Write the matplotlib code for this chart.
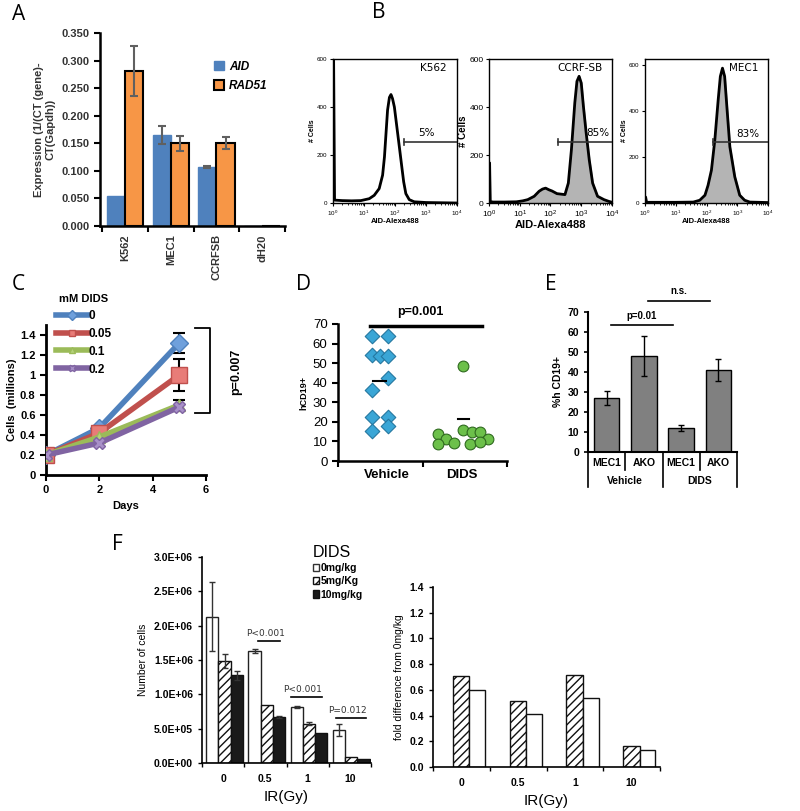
import matplotlib
matplotlib.use('Agg')
import matplotlib.pyplot as plt
import numpy as np
from matplotlib.lines import Line2D
from matplotlib.patches import Patch
from matplotlib.ticker import FuncFormatter, FixedLocator, LogLocator, NullFormatter

plt.rcParams['font.family'] = ['Liberation Sans', 'DejaVu Sans']
plt.rcParams['hatch.linewidth'] = 1.0

W, H = 800, 811
fig = plt.figure(figsize=(8, 8.11), dpi=100)


def px_axes(l, t, r, b):
    return fig.add_axes([l / W, 1 - b / H, (r - l) / W, (b - t) / H])


def fx(x):
    return x / W


def fy(y):
    return 1 - y / H

# ---------------- data ----------------
# Panel A
a_cats = ['K562', 'MEC1', 'CCRFSB', 'dH20']
a_aid = [0.055, 0.165, 0.107, 0.0]
a_aid_err = [0.0, 0.016, 0.002, 0.0]
a_rad51 = [0.281, 0.150, 0.151, 0.0]
a_rad51_err = [0.045, 0.014, 0.011, 0.0]

# Panel B (log10 of fluorescence, cell count)
b_titles = ['K562', 'CCRF-SB', 'MEC1']
b_pcts = ['5%', '85%', '83%']
k562_logx = [0.00, 0.02, 0.05, 0.3, 0.6, 0.9, 1.17, 1.33, 1.49, 1.60, 1.66, 1.71, 1.76, 1.82,
             1.87, 1.92, 1.98, 2.06, 2.14, 2.22, 2.28, 2.35, 2.46, 2.62, 3.0, 3.5, 4.0]
k562_cnt = [600, 600, 12, 10, 9, 10, 18, 32, 60, 116, 192, 290, 387, 440,
            452, 435, 400, 317, 234, 150, 88, 39, 14, 5, 2, 1, 0]
ccrf_logx = [0.0, 0.02, 0.04, 0.13, 0.5, 0.89, 1.10, 1.26, 1.47, 1.63, 1.74, 1.84, 1.95, 2.05,
             2.21, 2.47, 2.58, 2.68, 2.79, 2.86, 2.93, 3.00, 3.07, 3.16, 3.26, 3.37, 3.53,
             3.74, 3.89, 4.0]
ccrf_cnt = [0, 167, 6, 4, 4, 5, 9, 14, 28, 49, 58, 62, 55, 50,
            39, 35, 83, 222, 417, 507, 528, 500, 403, 292, 180, 83, 28,
            14, 7, 3]
mec1_logx = [0.0, 0.02, 0.05, 0.5, 1.0, 1.57, 1.78, 1.95, 2.05, 2.16, 2.27, 2.38, 2.45,
             2.52, 2.59, 2.67, 2.76, 2.92, 3.08, 3.24, 3.41, 4.0]
mec1_cnt = [0, 26, 3, 3, 3, 4, 12, 34, 77, 143, 274, 450, 552,
            588, 552, 406, 245, 114, 34, 12, 4, 2]
b_gate_start = [2.28, 2.26, 2.22]
b_gate_y = [255, 255, 267]

# Panel C
c_days = [0, 2, 5]
c_doses = ['0', '0.05', '0.1', '0.2']
c_vals = [[0.20, 0.47, 1.32],
          [0.20, 0.42, 1.00],
          [0.20, 0.38, 0.70],
          [0.20, 0.32, 0.68]]
c_err5 = [0.10, 0.16, 0.05, 0.0]

# Panel D
d_veh_x = [0.40, 0.59, 0.40, 0.50, 0.59, 0.59, 0.40, 0.40, 0.59, 0.40, 0.59]
d_veh_y = [63.9, 63.9, 54.2, 53.7, 53.7, 42.6, 36.3, 22.3, 22.3, 15.3, 17.9]
d_dids_x = [1.48, 1.18, 1.48, 1.58, 1.68, 1.28, 1.78, 1.18, 1.37, 1.56, 1.68]
d_dids_y = [48.7, 13.6, 15.8, 15.0, 14.6, 11.2, 11.2, 8.5, 9.4, 8.5, 9.9]
d_veh_mean = 41.0
d_dids_mean = 21.5

# Panel E
e_labels = ['MEC1', 'AKO', 'MEC1', 'AKO']
e_groups = ['Vehicle', 'DIDS']
e_vals = [27, 48, 12, 41]
e_err = [3.5, 10, 1.5, 5.5]

# Panel F
f_cats = ['0', '0.5', '1', '10']
f_0mg = [2.13e6, 1.63e6, 0.815e6, 0.476e6]
f_0mg_err = [0.5e6, 0.03e6, 0.02e6, 0.09e6]
f_5mg = [1.49e6, 0.84e6, 0.573e6, 0.083e6]
f_5mg_err = [0.10e6, 0.0, 0.02e6, 0.0]
f_10mg = [1.277e6, 0.67e6, 0.437e6, 0.058e6]
f_10mg_err = [0.07e6, 0.01e6, 0.0, 0.0]
f_fold_5 = [0.705, 0.513, 0.718, 0.166]
f_fold_10 = [0.601, 0.415, 0.539, 0.135]

# ---------------- panel letters ----------------
for lab, x, y in [('A', 12, 14), ('B', 372, 12), ('C', 12, 285), ('D', 296, 284),
                  ('E', 545, 285), ('F', 112, 545)]:
    fig.text(fx(x), fy(y), lab, fontsize=15, family='Open Sans', va='center', ha='left')

# ---------------- Panel A ----------------
axA = px_axes(100, 33, 285, 226)
xa = np.arange(len(a_cats))
bw = 0.4
axA.bar(xa - bw / 2, a_aid, bw, color='#4f81bd', edgecolor='#4f81bd', zorder=2)
axA.bar(xa + bw / 2, a_rad51, bw, color='#f79646', edgecolor='black', linewidth=1.5, zorder=2)
for i in range(len(a_cats)):
    if a_aid_err[i] > 0:
        axA.errorbar(xa[i] - bw / 2, a_aid[i], yerr=a_aid_err[i], color='#606060', capsize=3, lw=1.5, capthick=1.5, zorder=3)
    if a_rad51_err[i] > 0:
        axA.errorbar(xa[i] + bw / 2, a_rad51[i], yerr=a_rad51_err[i], color='#606060', capsize=3, lw=1.5, capthick=1.5, zorder=3)
axA.set_xlim(-0.55, 3.5)
axA.set_ylim(0, 0.35)
axA.set_yticks(np.arange(0, 0.351, 0.05))
axA.yaxis.set_major_formatter(FuncFormatter(lambda v, p: f'{v:.3f}'))
axA.set_xticks(xa)
axA.set_xticklabels(a_cats, rotation=90, fontweight='bold', fontsize=8, color='#333333')
axA.tick_params(axis='x', length=0, pad=6)
axA.set_xticks([-0.5, 0.5, 1.5, 2.5, 3.5], minor=True)
axA.tick_params(axis='x', which='minor', length=4, width=1.5)
axA.tick_params(axis='y', labelsize=8, width=1.5, length=4, labelcolor='#333333')
for t in axA.get_yticklabels():
    t.set_fontweight('bold')
for s in ['top', 'right']:
    axA.spines[s].set_visible(False)
for s in ['left', 'bottom']:
    axA.spines[s].set_linewidth(1.8)
axA.set_ylabel('Expression (1/(CT (gene)-\nCT(Gapdh))', fontsize=8, fontweight='bold', color='#333333', labelpad=4)
axA.legend(handles=[Patch(facecolor='#4f81bd', edgecolor='#4f81bd', label='AID'),
                    Patch(facecolor='#f79646', edgecolor='black', linewidth=1.5, label='RAD51')],
           loc='upper left', bbox_to_anchor=(fx(203), fy(50)), bbox_transform=fig.transFigure,
           frameon=False, handlelength=0.9, handleheight=0.9, handletextpad=0.4, labelspacing=0.6,
           prop={'weight': 'bold', 'style': 'italic', 'size': 8.5})

# ---------------- Panel B ----------------
b_pos = [(333, 59, 457, 203), (489, 59, 612, 203), (645, 59, 768, 203)]
b_data = [(k562_logx, k562_cnt), (ccrf_logx, ccrf_cnt), (mec1_logx, mec1_cnt)]
b_fill = [False, True, True]
b_ylim = [600, 600, 628]
b_small = [True, False, True]
b_pct_pos = [3.03, 3.55, 3.35]
for i in range(3):
    ax = px_axes(*b_pos[i])
    lx, cnt = b_data[i]
    xs = 10 ** np.array(lx)
    if b_fill[i]:
        ax.fill_between(xs, cnt, 0, color='#b4b4b4', zorder=1)
    ax.plot(xs, cnt, color='black', lw=2, zorder=2, solid_joinstyle='round')
    ax.set_xscale('log')
    ax.set_xlim(1, 1e4)
    ax.set_ylim(0, b_ylim[i])
    ax.set_yticks([0, 200, 400, 600])
    ax.xaxis.set_major_locator(FixedLocator([1, 10, 100, 1000, 10000]))
    ax.xaxis.set_minor_locator(LogLocator(base=10, subs=np.arange(2, 10), numticks=20))
    ax.xaxis.set_minor_formatter(NullFormatter())
    g0 = 10 ** b_gate_start[i]
    ax.plot([g0, 1e4], [b_gate_y[i], b_gate_y[i]], color='#333333', lw=1.2, zorder=3)
    ax.plot([g0, g0], [b_gate_y[i] - 12, b_gate_y[i] + 12], color='#333333', lw=1.2, zorder=3)
    small = b_small[i]
    tfs = 4.5 if small else 6
    ax.tick_params(axis='both', labelsize=tfs, length=2.5, width=0.8, pad=1.5)
    ax.tick_params(axis='x', which='minor', length=1.5, width=0.6)
    ax.set_xlabel('AID-Alexa488', fontsize=5.5 if small else 8, fontweight='bold', labelpad=0)
    ax.set_ylabel('# Cells', fontsize=5 if small else 7, fontweight='bold', labelpad=1)
    ax.text(0.92, 0.97, b_titles[i], transform=ax.transAxes, ha='right', va='top', fontsize=7.5,
            family='DejaVu Sans')
    ax.text(10 ** b_pct_pos[i], b_gate_y[i] + 35, b_pcts[i], ha='center', va='center', fontsize=7.5,
            family='DejaVu Sans')
    for s in ax.spines.values():
        s.set_linewidth(1.0)

# ---------------- Panel C ----------------
axC = px_axes(46, 325, 206, 475)
c_colors = ['#4f81bd', '#c0504d', '#9bbb59', '#8064a2']
c_mfc = ['#6fa0dc', '#e87c78', '#b5d27a', '#a890c8']
c_markers = ['D', 's', '^', 'X']
c_ms = [9, 12, 9, 9]
for i in range(4):
    axC.plot(c_days, c_vals[i], color=c_colors[i], lw=4, marker=c_markers[i], ms=c_ms[i],
             mfc=c_mfc[i], mec=c_colors[i], zorder=3)
    if c_err5[i] > 0:
        axC.errorbar(c_days[-1], c_vals[i][-1], yerr=c_err5[i], color='black', capsize=4, lw=1.5,
                     capthick=1.5, zorder=2)
axC.set_xlim(0, 6)
axC.set_ylim(0, 1.5)
axC.set_xticks([0, 2, 4, 6])
axC.set_yticks([0, 0.2, 0.4, 0.6, 0.8, 1.0, 1.2, 1.4])
axC.yaxis.set_major_formatter(FuncFormatter(lambda v, p: f'{v:g}'))
axC.tick_params(labelsize=8, width=1.5, length=4)
for t in axC.get_xticklabels() + axC.get_yticklabels():
    t.set_fontweight('bold')
for s in ['top', 'right']:
    axC.spines[s].set_visible(False)
for s in ['left', 'bottom']:
    axC.spines[s].set_linewidth(2)
axC.set_xlabel('Days', fontsize=8, fontweight='bold')
axC.set_ylabel('Cells  (millions)', fontsize=8, fontweight='bold', labelpad=2)
# bracket
axC.plot([5.6, 6.15, 6.15, 5.6], [1.47, 1.47, 0.62, 0.62], color='black', lw=1.3, clip_on=False)
axC.text(7.15, 1.03, 'p=0.007', rotation=90, ha='center', va='center', fontsize=9, fontweight='bold')
c_handles = [Line2D([], [], color=c_colors[i], lw=4, marker=c_markers[i], ms=5, mfc=c_mfc[i],
                    mec=c_colors[i], label=c_doses[i]) for i in range(4)]
leg = axC.legend(handles=c_handles, title='mM DIDS', loc='upper left',
                 bbox_to_anchor=(fx(50), fy(288)), bbox_transform=fig.transFigure, frameon=False,
                 handlelength=2.7, handletextpad=0.1, labelspacing=0.5, borderpad=0,
                 prop={'weight': 'bold', 'size': 8.5})
leg.get_title().set_fontweight('bold')
leg.get_title().set_fontsize(8)

# ---------------- Panel D ----------------
axD = px_axes(338, 324, 507, 461)
axD.scatter(d_veh_x, d_veh_y, marker='D', s=55, color='#3aa6d6', edgecolor='#2477a0', lw=0.8, zorder=3)
axD.scatter(d_dids_x, d_dids_y, marker='o', s=60, color='#6cc04a', edgecolor='#2f6a1f', lw=0.8, zorder=3)
axD.plot([0.42, 0.57], [d_veh_mean, d_veh_mean], color='black', lw=1.5, zorder=4)
axD.plot([1.42, 1.55], [d_dids_mean, d_dids_mean], color='black', lw=1.5, zorder=4)
axD.plot([0.38, 1.70], [69, 69], color='black', lw=2.5, clip_on=False)
axD.text(0.98, 73, 'p=0.001', ha='center', va='bottom', fontsize=9, fontweight='bold')
axD.set_xlim(0, 2)
axD.set_ylim(0, 70)
axD.set_yticks(np.arange(0, 71, 10))
axD.set_xticks([0, 1, 2])
axD.set_xticklabels([])
axD.set_xticks([0.58, 1.47], minor=True)
axD.set_xticklabels(['Vehicle', 'DIDS'], minor=True, fontsize=9.5, fontweight='bold')
axD.tick_params(axis='x', which='minor', length=0, pad=6)
axD.tick_params(axis='x', which='major', length=4, width=1.5)
axD.tick_params(axis='y', labelsize=9.5, length=4, width=1.5)
for s in ['top', 'right']:
    axD.spines[s].set_visible(False)
for s in ['left', 'bottom']:
    axD.spines[s].set_linewidth(1.8)
axD.set_ylabel('hCD19+', fontsize=6.5, fontweight='bold', labelpad=3)

# ---------------- Panel E ----------------
axE = px_axes(588, 312, 737, 452)
xe = np.arange(4) + 0.5
axE.bar(xe, e_vals, 0.68, color='#808080', edgecolor='black', linewidth=1, zorder=2)
axE.errorbar(xe, e_vals, yerr=e_err, fmt='none', ecolor='black', capsize=2.5, lw=1, capthick=1, zorder=3)
axE.set_xlim(0, 4)
axE.set_ylim(0, 70)
axE.set_yticks(np.arange(0, 71, 10))
axE.set_xticks([])
axE.tick_params(axis='y', labelsize=7.5, length=3, width=1.2)
for t in axE.get_yticklabels():
    t.set_fontweight('bold')
for s in ['top', 'right']:
    axE.spines[s].set_visible(False)
for s in ['left', 'bottom']:
    axE.spines[s].set_linewidth(1.5)
for i, lab in enumerate(e_labels):
    axE.text(xe[i], -0.082, lab, transform=axE.get_xaxis_transform(), ha='center', va='center',
             fontsize=7.5, fontweight='bold')
for g, lab in enumerate(e_groups):
    axE.text(1 + 2 * g, -0.21, lab, transform=axE.get_xaxis_transform(), ha='center', va='center',
             fontsize=7.5, fontweight='bold')
for xv, yb in [(0, -0.25), (1, -0.13), (2, -0.25), (3, -0.13), (4, -0.25)]:
    axE.plot([xv, xv], [0, yb], transform=axE.get_xaxis_transform(), color='black', lw=1.2, clip_on=False)
axE.plot([0.61, 2.29], [63.3, 63.3], color='black', lw=1.2, clip_on=False)
axE.text(1.45, 65.5, 'p=0.01', ha='center', va='bottom', fontsize=7, fontweight='bold')
axE.plot([1.6, 3.27], [75.5, 75.5], color='black', lw=1.2, clip_on=False)
axE.text(2.45, 77.8, 'n.s.', ha='center', va='bottom', fontsize=7, fontweight='bold')
axE.set_ylabel('%h CD19+', fontsize=7.5, fontweight='bold', labelpad=3)

# ---------------- Panel F (left) ----------------
axF = px_axes(202, 557, 371, 763)
xf = np.arange(4)
fw = 0.29
axF.bar(xf + 0.1, f_0mg, fw, align='edge', color='white', edgecolor='#222222', lw=1, zorder=2)
axF.bar(xf + 0.39, f_5mg, fw, align='edge', color='white', edgecolor='#111111', hatch='////', lw=1, zorder=2)
axF.bar(xf + 0.68, f_10mg, fw, align='edge', color='#1a1a1a', edgecolor='#111111', lw=1, zorder=2)
for i in range(4):
    for xoff, v, e in [(0.245, f_0mg[i], f_0mg_err[i]), (0.535, f_5mg[i], f_5mg_err[i]),
                       (0.825, f_10mg[i], f_10mg_err[i])]:
        if e > 0:
            axF.errorbar(xf[i] + xoff, v, yerr=e, fmt='none', ecolor='#333333', capsize=2.5, lw=1, zorder=3)
axF.set_xlim(0, 4)
axF.set_ylim(0, 3.0e6)
axF.set_yticks(np.arange(0, 3.01e6, 0.5e6))
axF.yaxis.set_major_formatter(FuncFormatter(lambda v, p: f'{v:.1E}'))
axF.set_xticks([0, 1, 2, 3, 4])
axF.set_xticklabels([])
axF.set_xticks(xf + 0.5, minor=True)
axF.set_xticklabels(f_cats, minor=True, fontsize=7.5, fontweight='bold')
axF.tick_params(axis='x', which='minor', length=0, pad=8)
axF.tick_params(axis='x', which='major', length=3, width=1)
axF.tick_params(axis='y', labelsize=7.5, length=3, width=1)
for t in axF.get_yticklabels():
    t.set_fontweight('bold')
for s in ['top', 'right']:
    axF.spines[s].set_visible(False)
for s in ['left', 'bottom']:
    axF.spines[s].set_linewidth(1.2)
axF.set_ylabel('Number of cells', fontsize=7.5, labelpad=4)
axF.set_xlabel('IR(Gy)', fontsize=11, labelpad=4)
for (x0, x1, yl, txt) in [(1.32, 1.84, 1.78e6, 'P<0.001'), (2.10, 2.84, 0.96e6, 'P<0.001'),
                          (3.16, 3.88, 0.655e6, 'P=0.012')]:
    axF.plot([x0, x1], [yl, yl], color='black', lw=1.2)
    axF.text((x0 + x1) / 2 - 0.08, yl + 0.04e6, txt, ha='center', va='bottom', fontsize=6.5,
             family='DejaVu Sans', color='#333333')
legF = axF.legend(handles=[Patch(facecolor='white', edgecolor='#333333', label='0mg/kg'),
                           Patch(facecolor='white', edgecolor='#111111', hatch='////', label='5mg/Kg'),
                           Patch(facecolor='#1a1a1a', edgecolor='#111111', label='10mg/kg')],
                  title='DIDS', loc='upper left', bbox_to_anchor=(fx(308), fy(540)),
                  bbox_transform=fig.transFigure, frameon=False, handlelength=0.6, handleheight=0.7,
                  handletextpad=0.1, labelspacing=0.3, borderpad=0,
                  prop={'weight': 'bold', 'size': 7.5})
legF.get_title().set_fontsize(11.5)
legF._legend_box.align = 'left'

# ---------------- Panel F (right) ----------------
axG = px_axes(433, 587, 660, 767)
axG.bar(xf + 0.35, f_fold_5, 0.29, align='edge', color='white', edgecolor='#111111', hatch='////', lw=1, zorder=2)
axG.bar(xf + 0.64, f_fold_10, 0.28, align='edge', color='white', edgecolor='#111111', lw=1, zorder=2)
axG.set_xlim(0, 4)
axG.set_ylim(0, 1.4)
axG.set_yticks(np.arange(0, 1.41, 0.2))
axG.yaxis.set_major_formatter(FuncFormatter(lambda v, p: f'{v:.1f}'))
axG.set_xticks([0, 1, 2, 3, 4])
axG.set_xticklabels([])
axG.set_xticks(xf + 0.5, minor=True)
axG.set_xticklabels(f_cats, minor=True, fontsize=7.5, fontweight='bold')
axG.tick_params(axis='x', which='minor', length=0, pad=8)
axG.tick_params(axis='x', which='major', length=3, width=1)
axG.tick_params(axis='y', labelsize=7.5, length=3, width=1)
for t in axG.get_yticklabels():
    t.set_fontweight('bold')
for s in ['top', 'right']:
    axG.spines[s].set_visible(False)
for s in ['left', 'bottom']:
    axG.spines[s].set_linewidth(1.2)
axG.set_ylabel('fold difference from 0mg/kg', fontsize=7.5, labelpad=4)
axG.set_xlabel('IR(Gy)', fontsize=11, labelpad=4)

fig.savefig('out.png', dpi=100)
